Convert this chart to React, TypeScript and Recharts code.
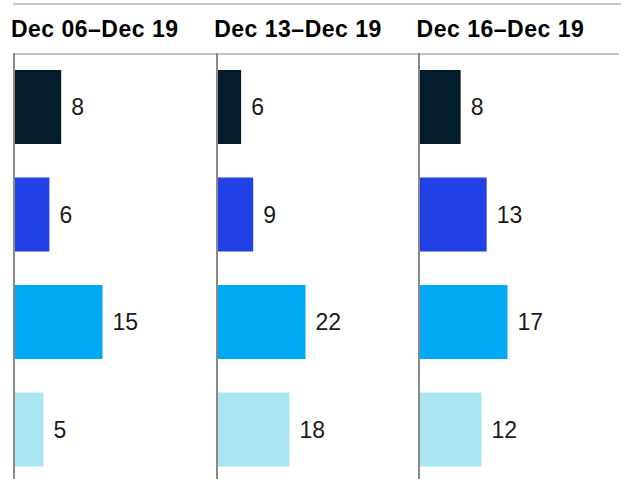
import React from 'react';
import { BarChart, Bar, XAxis, YAxis, Cell, LabelList, ReferenceLine } from 'recharts';

const categories = ['Group 1', 'Group 2', 'Group 3', 'Group 4'];
const periods = ['Dec 06–Dec 19', 'Dec 13–Dec 19', 'Dec 16–Dec 19'];
const valuesDec06 = [8, 6, 15, 5];
const valuesDec13 = [6, 9, 22, 18];
const valuesDec16 = [8, 13, 17, 12];
const barColors = ['#051c2c', '#2140e6', '#00a9f4', '#aae6f0'];

const panelValues = [valuesDec06, valuesDec13, valuesDec16];
const axisXs = [13.7, 217, 419.4];

function Panel({ title, values, axisX }: { title: string; values: number[]; axisX: number }) {
  const data = categories.map((c, i) => ({ category: c, value: values[i] }));
  return (
    <>
      <div
        style={{
          position: 'absolute',
          left: axisX - 2.8,
          top: 17.9,
          fontSize: 23,
          lineHeight: '23px',
          fontWeight: 700,
          letterSpacing: 0.5,
          whiteSpace: 'nowrap',
          color: '#000',
        }}
      >
        {title}
      </div>
      <div style={{ position: 'absolute', left: axisX - 2, top: 52.5 }}>
        <BarChart
          layout="vertical"
          width={205}
          height={430}
          data={data}
          margin={{ top: 0, right: 26, bottom: 0, left: 2 }}
          barSize={74}
        >
          <XAxis type="number" hide domain={[0, (m: number) => m * 2]} />
          <YAxis type="category" dataKey="category" hide />
          <Bar dataKey="value" isAnimationActive={false}>
            {data.map((d, i) => (
              <Cell key={d.category} fill={barColors[i]} />
            ))}
            <LabelList dataKey="value" position="right" offset={10} fill="#1a1a1a" fontSize={23} />
          </Bar>
          <ReferenceLine x={0} stroke="#8a8a8a" strokeWidth={2} />
        </BarChart>
      </div>
    </>
  );
}

export default function App() {
  return (
    <div
      style={{
        position: 'absolute',
        left: 0,
        top: 0,
        width: 625,
        height: 479,
        overflow: 'hidden',
        background: '#fff',
        fontFamily: '"Liberation Sans", Arial, sans-serif',
      }}
    >
      <div style={{ position: 'absolute', left: 12.5, top: 2.7, width: 608, height: 2, background: '#c8c8c8' }} />
      <div style={{ position: 'absolute', left: 12.5, top: 53.3, width: 606, height: 1.7, background: '#c2c2c2' }} />
      {periods.map((p, i) => (
        <Panel key={p} title={p} values={panelValues[i]} axisX={axisXs[i]} />
      ))}
    </div>
  );
}
